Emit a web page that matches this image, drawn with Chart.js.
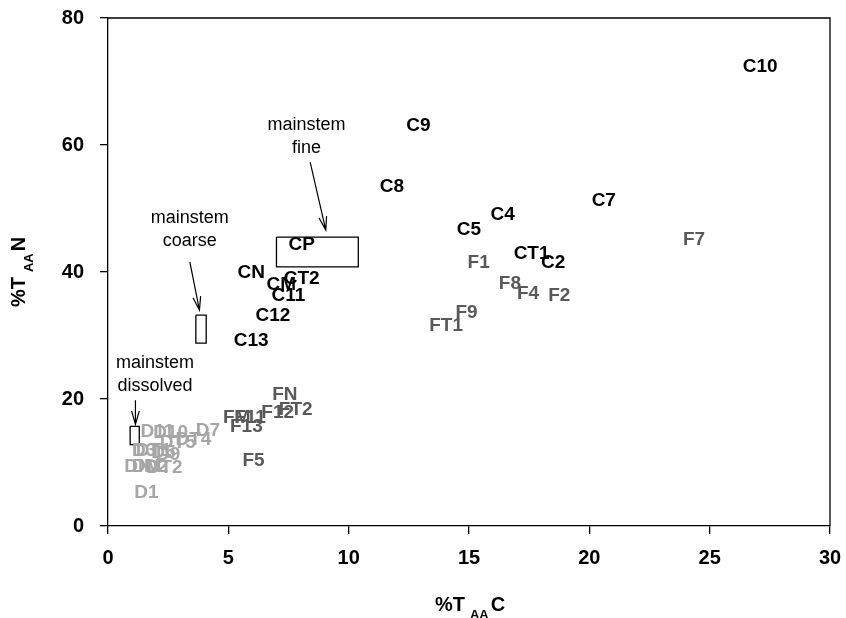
<!DOCTYPE html>
<html>
<head>
<meta charset="utf-8">
<script src="https://cdn.jsdelivr.net/npm/chart.js@4.4.1/dist/chart.umd.min.js"></script>
<style>
  html, body { margin: 0; padding: 0; background: #fff; }
</style>
</head>
<body>
<canvas id="chart" width="846" height="618"></canvas>
<script>
// --- coarse particle sites (black labels) ---
const cNames = ['C10', 'C9', 'C8', 'C7', 'C4', 'C5', 'CT1', 'C2', 'CP', 'CN', 'CT2', 'CM', 'C11', 'C12', 'C13']
const cX = [27.1, 12.9, 11.8, 20.6, 16.4, 15.0, 17.6, 18.5, 8.05, 5.95, 8.05, 7.2, 7.5, 6.85, 5.95]
const cY = [72.3, 63.0, 53.4, 51.2, 49.0, 46.7, 42.9, 41.4, 44.3, 39.9, 38.9, 38.0, 36.3, 33.1, 29.2]

// --- fine particle sites (dark grey labels) ---
const fNames = ['F7', 'F1', 'F8', 'F4', 'F2', 'F9', 'FT1', 'FN', 'FT2', 'F12', 'FM', 'F11', 'F13', 'F5']
const fX = [24.35, 15.4, 16.7, 17.45, 18.75, 14.9, 14.05, 7.35, 7.8, 7.05, 5.35, 5.9, 5.75, 6.05]
const fY = [45.0, 41.5, 38.1, 36.6, 36.3, 33.6, 31.6, 20.6, 18.3, 17.8, 17.0, 17.0, 15.6, 10.3]

// --- dissolved sites (light grey labels) ---
const dNames = ['D7', 'D11', 'D10', 'DT4', 'DT5', 'D3', 'DT1', 'D5', 'D9', 'DN', 'DM', 'D2', 'DT2', 'D1']
const dX = [4.15, 2.05, 2.6, 3.55, 2.9, 1.5, 1.9, 2.3, 2.5, 1.25, 1.6, 2.0, 2.35, 1.6]
const dY = [15.0, 14.8, 14.7, 13.6, 13.1, 11.9, 11.9, 11.6, 11.2, 9.3, 9.3, 9.3, 9.2, 5.2]

// --- mainstem ranges (boxes) ---
const fineBoxX = [7.0, 10.4, 10.4, 7.0, 7.0]
const fineBoxY = [45.5, 45.5, 40.8, 40.8, 45.5]
const coarseBoxX = [3.65, 4.08, 4.08, 3.65, 3.65]
const coarseBoxY = [33.2, 33.2, 28.8, 28.8, 33.2]
const dissBoxX = [0.92, 1.3, 1.3, 0.92, 0.92]
const dissBoxY = [15.7, 15.7, 12.8, 12.8, 15.7]

// tick values
const xTicks = [0, 5, 10, 15, 20, 25, 30]
const yTicks = [0, 20, 40, 60, 80]

const FONT = "'Liberation Sans', Arial, sans-serif"

const pts = (xs, ys) => xs.map((x, i) => ({ x, y: ys[i] }))

const labelSet = (names, xs, ys, color) => ({
  type: 'scatter',
  data: pts(xs, ys),
  pointLabels: names,
  labelColor: color,
  pointRadius: 0,
  pointHoverRadius: 0,
})

const boxSet = (xs, ys) => ({
  type: 'line',
  data: pts(xs, ys),
  borderColor: '#000',
  borderWidth: 1.3,
  pointRadius: 0,
  fill: false,
  tension: 0,
})

// text labels at each point
const pointLabelPlugin = {
  id: 'pointLabels',
  afterDatasetsDraw: (c) => {
    const ctx = c.ctx
    ctx.save()
    ctx.font = `bold 19px ${FONT}`
    ctx.textAlign = 'center'
    ctx.textBaseline = 'middle'
    c.data.datasets.forEach((ds, i) => {
      if (!ds.pointLabels) return
      ctx.fillStyle = ds.labelColor
      c.getDatasetMeta(i).data.forEach((el, j) => {
        ctx.fillText(ds.pointLabels[j], el.x, el.y)
      })
    })
    ctx.restore()
  },
}

// callout notes and arrows
const notes = [
  { lines: ['mainstem', 'fine'], at: [8.25, 63.1], from: [8.4, 57.3], to: [9.05, 46.6] },
  { lines: ['mainstem', 'coarse'], at: [3.4, 48.5], from: [3.4, 41.6], to: [3.8, 34.0] },
  { lines: ['mainstem', 'dissolved'], at: [1.95, 25.7], from: [1.14, 19.8], to: [1.14, 16.0] },
]

const notePlugin = {
  id: 'notes',
  afterDatasetsDraw: (c) => {
    const ctx = c.ctx
    const xs = c.scales.x
    const ys = c.scales.y
    ctx.save()
    ctx.font = `18px ${FONT}`
    ctx.fillStyle = '#000'
    ctx.strokeStyle = '#000'
    ctx.lineWidth = 1.2
    ctx.textAlign = 'center'
    ctx.textBaseline = 'middle'
    notes.forEach((n) => {
      const px = xs.getPixelForValue(n.at[0])
      const py = ys.getPixelForValue(n.at[1])
      n.lines.forEach((t, k) => ctx.fillText(t, px, py + k * 23))
      const x1 = xs.getPixelForValue(n.from[0])
      const y1 = ys.getPixelForValue(n.from[1])
      const x2 = xs.getPixelForValue(n.to[0])
      const y2 = ys.getPixelForValue(n.to[1])
      ctx.beginPath()
      ctx.moveTo(x1, y1)
      ctx.lineTo(x2, y2)
      const a = Math.atan2(y2 - y1, x2 - x1)
      const L = 14
      const s = 0.28
      ctx.moveTo(x2 - L * Math.cos(a - s), y2 - L * Math.sin(a - s))
      ctx.lineTo(x2, y2)
      ctx.lineTo(x2 - L * Math.cos(a + s), y2 - L * Math.sin(a + s))
      ctx.stroke()
    })
    ctx.restore()
  },
}

// frame on top and right of plot area
const framePlugin = {
  id: 'frame',
  afterDraw: (c) => {
    const { left, right, top, bottom } = c.chartArea
    const ctx = c.ctx
    ctx.save()
    ctx.strokeStyle = '#000'
    ctx.lineWidth = 1.3
    ctx.beginPath()
    ctx.moveTo(left, top)
    ctx.lineTo(right, top)
    ctx.lineTo(right, bottom)
    ctx.stroke()
    ctx.restore()
  },
}

// axis titles with subscript
const drawSubTitle = (ctx, cx, cy, main, sub, tail) => {
  const big = `bold 20px ${FONT}`
  const small = `bold 13px ${FONT}`
  ctx.font = big
  const w1 = ctx.measureText(main).width
  const w3 = ctx.measureText(tail).width
  ctx.font = small
  const w2 = ctx.measureText(sub).width
  const gap1 = 5
  const gap2 = 2
  let x = cx - (w1 + gap1 + w2 + gap2 + w3) / 2
  ctx.textAlign = 'left'
  ctx.textBaseline = 'middle'
  ctx.font = big
  ctx.fillText(main, x, cy)
  x += w1 + gap1
  ctx.font = small
  ctx.fillText(sub, x, cy + 10)
  x += w2 + gap2
  ctx.font = big
  ctx.fillText(tail, x, cy)
}

const axisTitlePlugin = {
  id: 'axisTitles',
  afterDraw: (c) => {
    const ctx = c.ctx
    ctx.save()
    ctx.fillStyle = '#000'
    drawSubTitle(ctx, 470, 605, '%T', 'AA', 'C')
    ctx.translate(19, 272)
    ctx.rotate(-Math.PI / 2)
    drawSubTitle(ctx, 0, 0, '%T', 'AA', 'N')
    ctx.restore()
  },
}

// drop the extra room Chart.js keeps for half tick labels
const noLabelPad = (s) => {
  s.paddingLeft = 0
  s.paddingRight = 0
  s.paddingTop = 0
  s.paddingBottom = 0
}

new Chart(document.getElementById('chart'), {
  data: {
    datasets: [
      boxSet(fineBoxX, fineBoxY),
      boxSet(coarseBoxX, coarseBoxY),
      boxSet(dissBoxX, dissBoxY),
      labelSet(dNames, dX, dY, '#a6a6a6'),
      labelSet(fNames, fX, fY, '#595959'),
      labelSet(cNames, cX, cY, '#000000'),
    ],
  },
  plugins: [pointLabelPlugin, notePlugin, framePlugin, axisTitlePlugin],
  options: {
    responsive: false,
    animation: false,
    devicePixelRatio: 1,
    layout: { padding: { top: 18, right: 16, left: 0, bottom: 0 } },
    plugins: { legend: { display: false }, tooltip: { enabled: false } },
    scales: {
      x: {
        type: 'linear',
        min: 0,
        max: 30,
        afterBuildTicks: (s) => { s.ticks = xTicks.map((v) => ({ value: v })) },
        afterFit: (s) => { s.height = 92; noLabelPad(s) },
        border: { display: true, color: '#000', width: 1.3 },
        grid: { drawOnChartArea: false, drawTicks: true, tickLength: 8, color: '#000', lineWidth: 1.3 },
        ticks: { color: '#000', padding: 12, font: { family: FONT, size: 20, weight: 'bold' } },
      },
      y: {
        type: 'linear',
        min: 0,
        max: 80,
        afterBuildTicks: (s) => { s.ticks = yTicks.map((v) => ({ value: v })) },
        afterFit: (s) => { s.width = 108; noLabelPad(s) },
        border: { display: true, color: '#000', width: 1.3 },
        grid: { drawOnChartArea: false, drawTicks: true, tickLength: 8, color: '#000', lineWidth: 1.3 },
        ticks: { color: '#000', padding: 16, font: { family: FONT, size: 20, weight: 'bold' } },
      },
    },
  },
})
</script>
</body>
</html>
